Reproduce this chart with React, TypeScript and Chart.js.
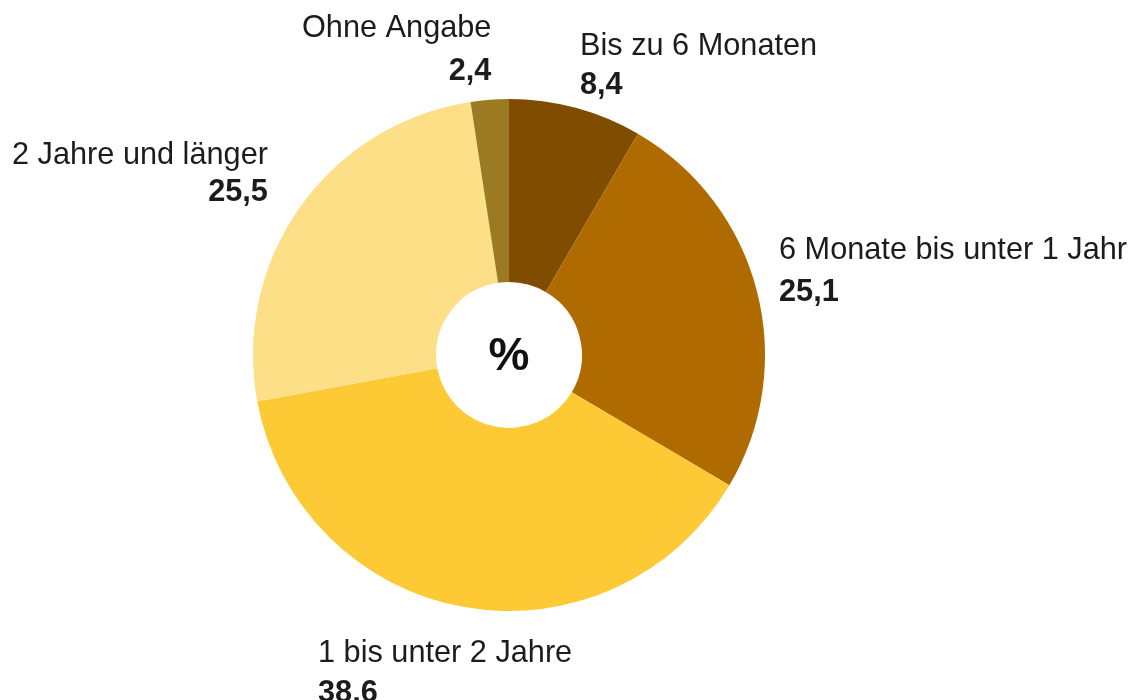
import React, { useEffect, useRef } from "react";
import { Chart, registerables } from "chart.js";

Chart.register(...registerables);

const categories = [
  "Bis zu 6 Monaten",
  "6 Monate bis unter 1 Jahr",
  "1 bis unter 2 Jahre",
  "2 Jahre und länger",
  "Ohne Angabe",
];
const values = [8.4, 25.1, 38.6, 25.5, 2.4];
const valueLabels = ["8,4", "25,1", "38,6", "25,5", "2,4"];
const colors = ["#7f4c00", "#b06b00", "#fdca35", "#fddf88", "#9a7a22"];
const centerLabel = "%";

// label placement: [x, labelBaseline, valueBaseline]
const labelPlacement: [number, number, number][] = [
  [580, 55, 94],
  [779, 259, 301],
  [318, 662, 702],
  [12, 164, 201],
  [302, 37, 80],
];
const valueRightAlign = [false, false, false, true, true];
const FONT = '"Liberation Sans", Arial, Helvetica, sans-serif';

export default function App() {
  const ref = useRef<HTMLCanvasElement | null>(null);
  useEffect(() => {
    document.body.style.margin = "0";
    const labelsPlugin = {
      id: "outerLabels",
      afterDraw(chart: any) {
        const ctx = chart.ctx;
        ctx.save();
        ctx.fillStyle = "#1c1c1c";
        ctx.textBaseline = "alphabetic";
        categories.forEach((cat, i) => {
          const [x, yl, yv] = labelPlacement[i];
          ctx.font = `30.7px ${FONT}`;
          ctx.textAlign = "left";
          ctx.fillText(cat, x, yl);
          const w = ctx.measureText(cat).width;
          ctx.font = `bold 30.7px ${FONT}`;
          if (valueRightAlign[i]) {
            ctx.textAlign = "right";
            ctx.fillText(valueLabels[i], x + w, yv);
          } else {
            ctx.textAlign = "left";
            ctx.fillText(valueLabels[i], x, yv);
          }
        });
        const arc = chart.getDatasetMeta(0).data[0];
        ctx.font = `bold 46px ${FONT}`;
        ctx.textAlign = "center";
        ctx.textBaseline = "middle";
        ctx.fillStyle = "#111";
        ctx.fillText(centerLabel, arc.x, arc.y + 2);
        ctx.restore();
      },
    };
    const chart = new Chart(ref.current!, {
      type: "doughnut",
      data: {
        labels: categories,
        datasets: [
          {
            data: values,
            backgroundColor: colors,
            borderWidth: 0,
          },
        ],
      },
      options: {
        animation: false,
        responsive: false,
        cutout: "28.5%",
        layout: { padding: { left: 253, right: 368, top: 99, bottom: 89 } },
        plugins: {
          legend: { display: false },
          tooltip: { enabled: false },
        },
      },
      plugins: [labelsPlugin],
    });
    return () => chart.destroy();
  }, []);
  return (
    <div style={{ width: 1133, height: 700, background: "#fff" }}>
      <canvas ref={ref} width={1133} height={700} />
    </div>
  );
}
